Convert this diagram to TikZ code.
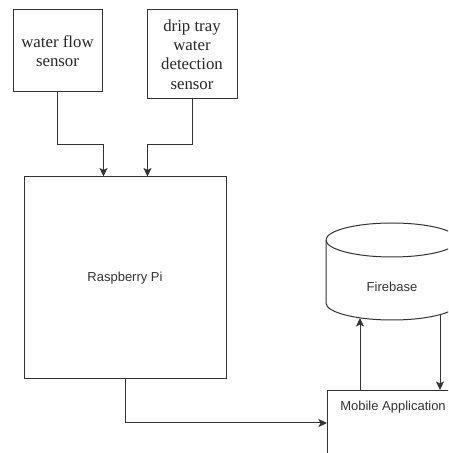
\documentclass[tikz,border=0pt]{standalone}
\usepackage{fontspec}
\setmainfont{Liberation Serif}
\newfontfamily\arialfont{Liberation Sans}
\usetikzlibrary{arrows.meta,calc}
\definecolor{ln}{HTML}{333333}
\begin{document}
\begin{tikzpicture}[x=1pt,y=1pt,
  boxst/.style={draw=ln,line width=1pt,fill=white,inner sep=2pt},
  sertext/.style={font=\fontsize{16.8}{19.3}\selectfont,align=center,text=black!85},
  sanstext/.style={font=\arialfont\fontsize{13}{15.6}\selectfont,text=ln},
  arr/.style={draw=ln,line width=1pt,-{Stealth[length=8.5pt,width=8pt,inset=2pt]}},
  ]
\useasboundingbox (0,0) rectangle (448,453);
\clip (0,0) rectangle (448,453);
\fill[white] (0,0) rectangle (448,453);
% sensors
\node[boxst,sertext,minimum width=89,minimum height=82] (s1) at (57.5,402) {water flow\\sensor};
\node[boxst,sertext,minimum width=90,minimum height=89] (s2) at (192,398.5) {drip tray\\water\\detection\\sensor};
% raspberry pi
\node[boxst,sanstext,minimum width=202,minimum height=202] (pi) at (125,175) {Raspberry Pi};
% mobile application
\node[boxst,minimum width=132,minimum height=90,anchor=north west] (mob) at (327,63) {};
\node[sanstext] (mobt) at (393,46) {Mobile Application};
% firebase cylinder
\draw[ln,line width=1pt,fill=white] (326,213) -- (326,150)
  arc[start angle=180,end angle=360,x radius=66,y radius=17] -- (458,213)
  arc[start angle=0,end angle=180,x radius=66,y radius=17] -- cycle;
\draw[ln,line width=1pt] (326,213) arc[start angle=180,end angle=360,x radius=66,y radius=17];
\node[sanstext] (fb) at (392,166) {Firebase};
\coordinate (fbL) at (360,135);
\coordinate (fbR) at (440,138);
% connectors
\draw[arr] (s1.south) -- ++(0,-52) -| ([xshift=80pt]pi.north west);
\draw[arr] (s2.south) -- ++(0,-45) -| ([xshift=124pt]pi.north west);
\draw[arr] (pi.south) |- ([yshift=-33pt]mob.north west);
\draw[arr] ([xshift=33pt]mob.north west) -- (fbL);
\draw[arr] (fbR) -- (fbR |- mob.north);
\end{tikzpicture}
\end{document}
